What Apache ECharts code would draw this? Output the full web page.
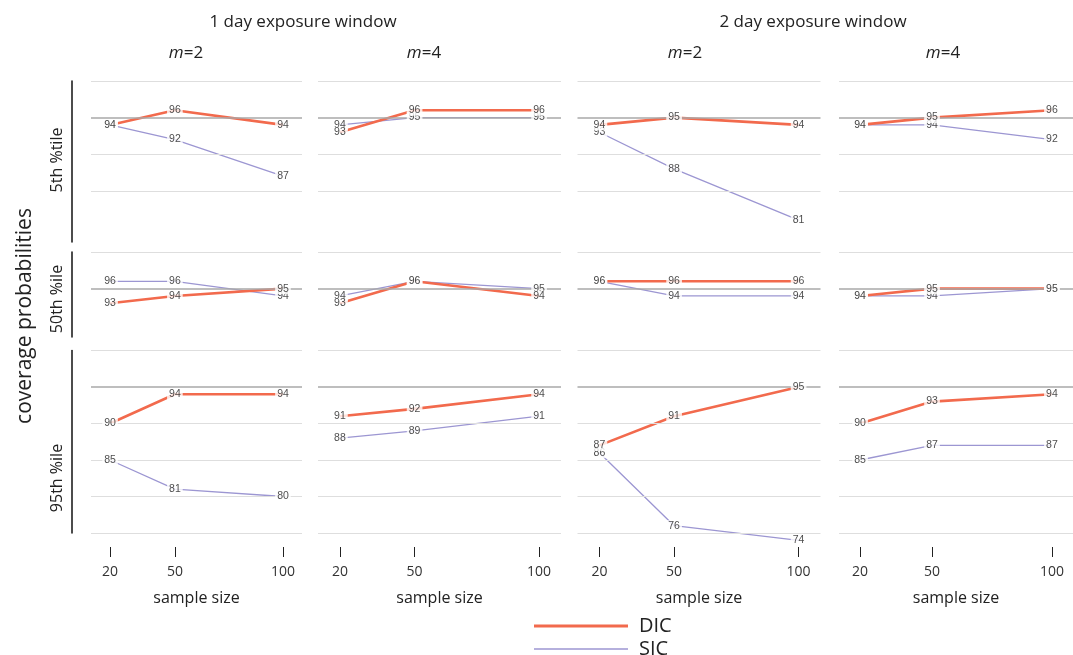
<!DOCTYPE html>
<html>
<head>
<meta charset="utf-8">
<script src="https://cdn.jsdelivr.net/npm/echarts@6/dist/echarts.min.js"></script>
<style>
  html, body { margin: 0; padding: 0; background: #fff; }
  #chart { width: 1073px; height: 655px; }
</style>
</head>
<body>
<div id="chart"></div>
<script>
// sample sizes on the x axis
var sampleSize = [20, 50, 100];
var windowTitles = ['1 day exposure window', '2 day exposure window'];
var mValues = ['2', '4', '2', '4'];
var rowLabels = ['5th %tile', '50th %ile', '95th %ile'];

// one inner array per column: 1 day m=2, 1 day m=4, 2 day m=2, 2 day m=4
var dicP5  = [[94, 96, 94], [93, 96, 96], [94, 95, 94], [94, 95, 96]];
var sicP5  = [[94, 92, 87], [94, 95, 95], [93, 88, 81], [94, 94, 92]];
var dicP50 = [[93, 94, 95], [93, 96, 94], [96, 96, 96], [94, 95, 95]];
var sicP50 = [[96, 96, 94], [94, 96, 95], [96, 94, 94], [94, 94, 95]];
var dicP95 = [[90, 94, 94], [91, 92, 94], [87, 91, 95], [90, 93, 94]];
var sicP95 = [[85, 81, 80], [88, 89, 91], [86, 76, 74], [85, 87, 87]];

var nominal = 95;
var gridValues = [[100, 90, 85], [100], [100, 90, 85, 80, 75]];

var dicRows = [dicP5, dicP50, dicP95];
var sicRows = [sicP5, sicP50, sicP95];

var DIC_COLOR = '#f26a4d';
var SIC_COLOR = '#9c96d2';
var FONT = '"Open Sans", sans-serif';

// panel layout
var cols = [
  { left: 91, width: 211 },
  { left: 318, width: 243 },
  { left: 577.5, width: 243 },
  { left: 839, width: 241 }
];
var rows = [
  { top: 81, height: 161, min: 78 },
  { top: 252, height: 85, min: 88.4 },
  { top: 350.5, height: 182.5, min: 75 }
];

var grids = [], xAxes = [], yAxes = [], series = [];

rows.forEach(function (r, ri) {
  cols.forEach(function (c, ci) {
    var idx = grids.length;
    grids.push({ left: c.left, width: c.width, top: r.top, height: r.height });

    var bottomRow = ri === 2;
    xAxes.push({
      gridIndex: idx, type: 'value', min: 11.2, max: 108.8,
      show: bottomRow,
      offset: 14,
      axisLine: { show: false },
      axisTick: { show: true, customValues: sampleSize, length: 10, lineStyle: { color: '#222' } },
      axisLabel: { customValues: sampleSize, margin: 18, fontSize: 14, color: '#333', fontFamily: FONT },
      splitLine: { show: false },
      name: bottomRow ? 'sample size' : '',
      nameLocation: 'middle', nameGap: 43,
      nameTextStyle: { fontSize: 16, color: '#222', fontFamily: FONT }
    });
    yAxes.push({
      gridIndex: idx, type: 'value', min: r.min, max: 100,
      offset: ci === 0 ? 19 : 0,
      axisLabel: { show: false }, axisTick: { show: false }, splitLine: { show: false },
      axisLine: { show: ci === 0, lineStyle: { color: '#111', width: 1.5 } }
    });

    var dic = sampleSize.map(function (x, i) { return [x, dicRows[ri][ci][i]]; });
    var sic = sampleSize.map(function (x, i) { return [x, sicRows[ri][ci][i]]; });

    var marks = gridValues[ri].map(function (v) {
      return { yAxis: v, lineStyle: { color: '#dedede', width: 1, type: 'solid' } };
    });
    marks.push({ yAxis: nominal, lineStyle: { color: '#a8a8a8', width: 1.6, type: 'solid' } });

    series.push({
      type: 'line', name: 'grid', xAxisIndex: idx, yAxisIndex: idx, z: 1, silent: true,
      data: [[20, nominal]], symbol: 'none', lineStyle: { opacity: 0 },
      markLine: { silent: true, symbol: ['none', 'none'], label: { show: false }, data: marks }
    });
    series.push({
      type: 'line', name: 'SIC', xAxisIndex: idx, yAxisIndex: idx, z: 2, silent: true, clip: false,
      data: sic, symbol: 'none', itemStyle: { color: SIC_COLOR },
      lineStyle: { color: SIC_COLOR, width: 1.3 }
    });
    series.push({
      type: 'line', name: 'DIC', xAxisIndex: idx, yAxisIndex: idx, z: 3, silent: true, clip: false,
      data: dic, symbol: 'none', itemStyle: { color: DIC_COLOR },
      lineStyle: { color: DIC_COLOR, width: 2.6 }
    });
    series.push({
      type: 'scatter', name: 'values', xAxisIndex: idx, yAxisIndex: idx, z: 5, silent: true, clip: false,
      data: sic.concat(dic), symbolSize: 1, itemStyle: { color: 'transparent' },
      label: {
        show: true, position: 'inside', formatter: function (p) { return p.value[1]; },
        fontSize: 10.5, color: '#1a1a1a', fontFamily: '"Liberation Sans", Arial, sans-serif',
        backgroundColor: '#fff', padding: [0, 2]
      }
    });
  });
});

var graphics = [];
[303, 813].forEach(function (x, i) {
  graphics.push({ type: 'text', x: x, y: 22, style: { text: windowTitles[i], font: '17px ' + FONT, fill: '#222', textAlign: 'center', textVerticalAlign: 'middle' } });
});
[186, 424, 685, 943].forEach(function (x, i) {
  graphics.push({ type: 'text', x: x, y: 53, style: {
    text: '{i|m}=' + mValues[i], font: '17px ' + FONT, fill: '#222', textAlign: 'center', textVerticalAlign: 'middle',
    rich: { i: { fontStyle: 'italic', fontSize: 17, fontFamily: FONT, fill: '#222' } }
  } });
});
[160, 299, 478].forEach(function (y, i) {
  graphics.push({ type: 'text', x: 57, y: y, rotation: Math.PI / 2, style: { text: rowLabels[i], font: '16px ' + FONT, fill: '#222', textAlign: 'center', textVerticalAlign: 'middle' } });
});
graphics.push({ type: 'text', x: 25, y: 316, rotation: Math.PI / 2, style: { text: 'coverage probabilities', font: '21px ' + FONT, fill: '#222', textAlign: 'center', textVerticalAlign: 'middle' } });

var option = {
  animation: false,
  backgroundColor: '#fff',
  grid: grids,
  xAxis: xAxes,
  yAxis: yAxes,
  series: series,
  graphic: graphics,
  legend: [
    { data: ['DIC'], left: 534, top: 616, padding: 0, icon: 'rect', itemWidth: 94, itemHeight: 3, selectedMode: false,
      textStyle: { fontSize: 20, color: '#222', fontFamily: FONT, padding: [0, 0, 0, 6] } },
    { data: ['SIC'], left: 534, top: 639, padding: 0, icon: 'rect', itemWidth: 94, itemHeight: 1.5, selectedMode: false,
      textStyle: { fontSize: 20, color: '#222', fontFamily: FONT, padding: [0, 0, 0, 6] } }
  ]
};

var chart = echarts.init(document.getElementById('chart'));
chart.setOption(option);
</script>
</body>
</html>
